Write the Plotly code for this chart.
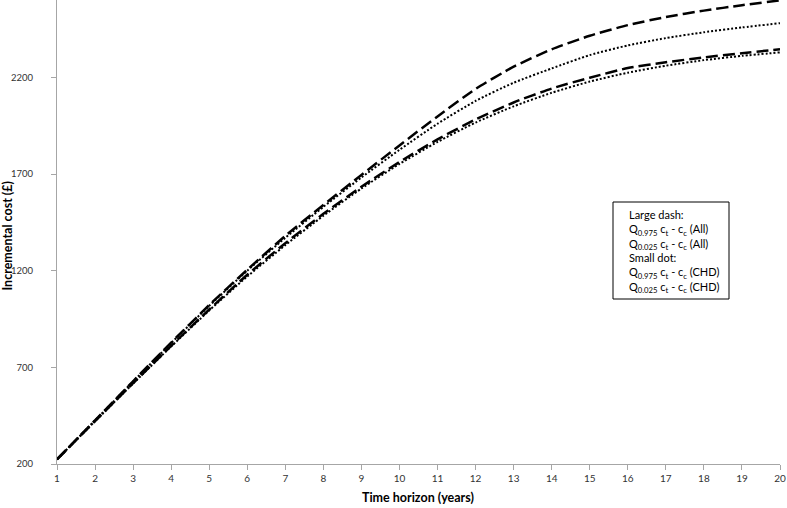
import plotly.graph_objects as go

years = list(range(1, 21))
q975_all = [224, 426, 628, 828, 1022, 1205, 1380, 1540, 1695, 1848, 1998, 2140, 2255, 2345, 2415, 2470, 2512, 2545, 2573, 2598]
q025_all = [224, 422, 618, 811, 999, 1179, 1342, 1494, 1634, 1762, 1879, 1982, 2070, 2142, 2198, 2248, 2278, 2303, 2325, 2345]
q975_chd = [224, 426, 627, 826, 1018, 1200, 1370, 1530, 1682, 1825, 1960, 2078, 2172, 2246, 2315, 2365, 2403, 2433, 2458, 2480]
q025_chd = [224, 421, 616, 808, 994, 1170, 1332, 1484, 1625, 1752, 1866, 1966, 2050, 2120, 2178, 2224, 2260, 2289, 2311, 2329]

y_ticks = [200, 700, 1200, 1700, 2200]
x_ticks = years

W, H = 787, 508
ML, MR, MT, MB = 57, 7, 0, 44
PW, PH = W - ML - MR, H - MT - MB

def px(xp):
    return (xp - ML) / PW

def py(yp):
    return (H - MB - yp) / PH

fig = go.Figure()
dash_large = "12px,5px"
dot_small = "2px,2px"
for name, vals, dash, w in [
    ("Q0.975 ct - cc (All)", q975_all, dash_large, 2.5),
    ("Q0.025 ct - cc (All)", q025_all, dash_large, 2.5),
    ("Q0.975 ct - cc (CHD)", q975_chd, dot_small, 2),
    ("Q0.025 ct - cc (CHD)", q025_chd, dot_small, 2),
]:
    fig.add_trace(go.Scatter(x=years, y=vals, mode="lines", name=name,
                             line=dict(color="black", width=w, dash=dash, shape="spline", smoothing=0.6),
                             showlegend=False, cliponaxis=False))

font_family = "Lato, 'Open Sans', sans-serif"
fig.update_layout(
    width=W, height=H,
    margin=dict(l=ML, r=MR, t=MT, b=MB, autoexpand=False),
    plot_bgcolor="white", paper_bgcolor="white",
    font=dict(family=font_family, size=10, color="#333333"),
    xaxis=dict(range=[1, 20], tickvals=x_ticks, showgrid=False, zeroline=False,
               showline=True, linecolor="#a6a6a6", linewidth=1, automargin=False,
               ticks="outside", ticklen=5, tickcolor="#a6a6a6",
               tickfont=dict(size=10, color="#333333")),
    yaxis=dict(range=[200, 2600], tickvals=y_ticks, showgrid=False, zeroline=False,
               showline=True, linecolor="#a6a6a6", linewidth=1, automargin=False,
               ticks="outside", ticklen=5, tickcolor="#a6a6a6",
               ticklabelstandoff=16,
               tickfont=dict(size=9.5, color="#333333")),
)

# axis titles
fig.add_annotation(xref="paper", yref="paper", x=px(418), y=py(497), text="<b>Time horizon (years)</b>",
                   showarrow=False, xanchor="center", yanchor="middle",
                   font=dict(size=12.5, color="black", family=font_family))
fig.add_annotation(xref="paper", yref="paper", x=px(7.5), y=py(236), text="<b>Incremental cost (£)</b>",
                   showarrow=False, xanchor="center", yanchor="middle", textangle=-90,
                   font=dict(size=12.5, color="black", family=font_family))

# legend box
fig.add_shape(type="rect", xref="paper", yref="paper", x0=px(613), x1=px(729), y0=py(299), y1=py(202),
              line=dict(color="black", width=1), fillcolor="white", layer="above")
legend_text = ("Large dash:<br>"
               "Q<sub>0.975</sub> c<sub>t</sub> - c<sub>c</sub> (All)<br>"
               "Q<sub>0.025</sub> c<sub>t</sub> - c<sub>c</sub> (All)<br>"
               "Small dot:<br>"
               "Q<sub>0.975</sub> c<sub>t</sub> - c<sub>c</sub> (CHD)<br>"
               "Q<sub>0.025</sub> c<sub>t</sub> - c<sub>c</sub> (CHD)")
fig.add_annotation(xref="paper", yref="paper", x=px(627), y=py(251),
                   xanchor="left", yanchor="middle", text=legend_text, showarrow=False,
                   align="left", font=dict(size=11, color="black", family=font_family))

fig.write_html("out.html", config={"displayModeBar": False},
               post_script="document.body.style.margin='0';document.body.style.padding='0';document.body.style.overflow='hidden';")
